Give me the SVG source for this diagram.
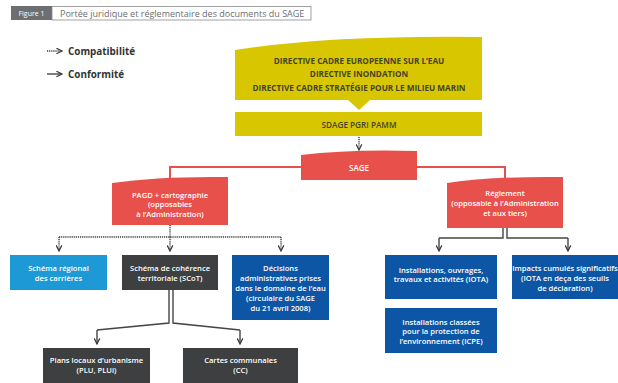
<svg xmlns="http://www.w3.org/2000/svg" width="618" height="383" viewBox="0 0 618 383">
<defs>
<style>
.t{font-family:"Open Sans","Liberation Sans",sans-serif;text-anchor:middle}
.w{fill:#ffffff;font-size:7.6px;font-weight:600}
.y{fill:#45432e;font-size:8.2px;font-weight:700}
.red{fill:#e8504b}
.yel{fill:#d8c700}
.dot{fill:none;stroke:#3e3e3e;stroke-width:1.4;stroke-dasharray:1.2 0.9}
.sol{fill:none;stroke:#454545;stroke-width:1.4}
.rl{fill:none;stroke:#e8504b;stroke-width:2}
</style>
<marker id="ah" viewBox="0 0 10 10" refX="9" refY="5" markerWidth="7" markerHeight="7" markerUnits="userSpaceOnUse" orient="auto">
<path d="M1,1 L9,5 L1,9" fill="none" stroke="#3e3e3e" stroke-width="1.8"/>
</marker>
</defs>
<rect width="618" height="383" fill="#ffffff"/>

<g id="header">
<rect x="11" y="6" width="41" height="14" fill="#6d6e70"/>
<text x="31.5" y="16" class="t" style="fill:#ffffff;font-size:7px">Figure 1</text>
<rect x="52" y="6.5" width="259" height="13.5" fill="#ffffff" stroke="#8a8a8a" stroke-width="0.8"/>
<text x="60" y="16.8" style="font-family:'Open Sans','Liberation Sans',sans-serif;font-size:9px;fill:#6d6e70">Portée juridique et réglementaire des documents du SAGE</text>
</g>

<g id="legend">
<line x1="47" y1="51" x2="62" y2="51" class="dot" marker-end="url(#ah)"/>
<text x="68" y="54.5" style="font-family:'Open Sans','Liberation Sans',sans-serif;font-size:9.9px;font-weight:700;fill:#333333">Compatibilité</text>
<line x1="47" y1="74" x2="62" y2="74" class="sol" marker-end="url(#ah)"/>
<text x="68" y="78" style="font-family:'Open Sans','Liberation Sans',sans-serif;font-size:9.9px;font-weight:700;fill:#333333">Conformité</text>
</g>

<g id="connectors">
<line x1="359" y1="137" x2="359" y2="150" class="dot" marker-end="url(#ah)"/>
<path d="M301,167 H170 V180" class="rl"/>
<path d="M417,167 H505 V180" class="rl"/>
<path d="M170,225 V237" class="dot"/>
<path d="M59,237 H281" class="dot"/>
<line x1="59" y1="237" x2="59" y2="251" class="dot" marker-end="url(#ah)"/>
<line x1="170" y1="237" x2="170" y2="251" class="dot" marker-end="url(#ah)"/>
<line x1="281" y1="237" x2="281" y2="251" class="dot" marker-end="url(#ah)"/>
<path d="M503,228 V238 H439" class="sol"/>
<path d="M507,228 V238 H568" class="sol"/>
<line x1="439" y1="238" x2="439" y2="251" class="sol" marker-end="url(#ah)"/>
<line x1="568" y1="238" x2="568" y2="251" class="sol" marker-end="url(#ah)"/>
<path d="M169,290 V323 L97,330" class="sol"/>
<path d="M173,290 V323 L240,330" class="sol"/>
<line x1="97" y1="330" x2="97" y2="344" class="sol" marker-end="url(#ah)"/>
<line x1="240" y1="330" x2="240" y2="344" class="sol" marker-end="url(#ah)"/>
</g>

<g id="directives">
<path d="M235,50 Q330,35 482,37 L482,100 L370,100 L359,110 L348,100 L235,100 Z" class="yel"/>
<text x="359" y="63.5" class="t y">DIRECTIVE CADRE EUROPEENNE SUR L’EAU</text>
<text x="359" y="76.5" class="t y">DIRECTIVE INONDATION</text>
<text x="359" y="90.5" class="t y">DIRECTIVE CADRE STRATÉGIE POUR LE MILIEU MARIN</text>
</g>

<g id="sdage">
<rect x="235" y="112" width="247" height="24" class="yel"/>
<text x="359" y="127.5" class="t y" style="font-weight:600">SDAGE PGRI PAMM</text>
</g>

<g id="sage">
<path d="M301,155 Q350,149 417,151 L417,180 L301,180 Z" class="red"/>
<text x="359" y="170.5" class="t w" style="font-size:8px">SAGE</text>
</g>

<g id="pagd">
<path d="M112,183 Q160,176 228,177 L228,225 L112,225 Z" class="red"/>
<text x="170" y="197.5" class="t w">PAGD + cartographie</text>
<text x="170" y="207" class="t w">(opposables</text>
<text x="170" y="216.5" class="t w">à l’Administration)</text>
</g>

<g id="reglement">
<path d="M447,183 Q495,176 563,177 L563,228 L447,228 Z" class="red"/>
<text x="505" y="195.5" class="t w">Réglement</text>
<text x="505" y="205.5" class="t w">(opposable à l’Administration</text>
<text x="505" y="215.5" class="t w">et aux tiers)</text>
</g>

<g id="schema-regional">
<rect x="10" y="255" width="97" height="35" fill="#1d9ad5"/>
<text x="58.5" y="270.5" class="t w">Schéma régional</text>
<text x="58.5" y="280.5" class="t w">des carrières</text>
</g>

<g id="scot">
<rect x="122" y="255" width="96" height="35" fill="#3d3f41"/>
<text x="170" y="270.5" class="t w">Schéma de cohérence</text>
<text x="170" y="280.5" class="t w">territoriale (SCoT)</text>
</g>

<g id="decisions">
<rect x="232" y="255" width="97" height="65" fill="#0d56a5"/>
<text x="280.5" y="270.5" class="t w">Décisions</text>
<text x="280.5" y="280.5" class="t w">administratives prises</text>
<text x="280.5" y="290.5" class="t w">dans le domaine de l’eau</text>
<text x="280.5" y="300.5" class="t w">(circulaire du SAGE</text>
<text x="280.5" y="310.5" class="t w">du 21 avril 2008)</text>
</g>

<g id="iota">
<rect x="385" y="255" width="112" height="44" fill="#0d56a5"/>
<text x="441" y="272.5" class="t w">Installations, ouvrages,</text>
<text x="441" y="282" class="t w">travaux et activités (IOTA)</text>
</g>

<g id="impacts">
<rect x="512" y="255" width="106" height="44" fill="#0d56a5"/>
<text x="565" y="270.5" class="t w">Impacts cumulés significatifs</text>
<text x="565" y="280.5" class="t w">(IOTA en deça des seuils</text>
<text x="565" y="291" class="t w">de déclaration)</text>
</g>

<g id="icpe">
<rect x="385" y="308" width="112" height="45" fill="#0d56a5"/>
<text x="441" y="324.5" class="t w">Installations classées</text>
<text x="441" y="334" class="t w">pour la protection de</text>
<text x="441" y="343.5" class="t w">l’environnement (ICPE)</text>
</g>

<g id="plu">
<rect x="43" y="348" width="107" height="36" fill="#3d3f41"/>
<text x="96.5" y="362.5" class="t w">Plans locaux d’urbanisme</text>
<text x="96.5" y="372.5" class="t w">(PLU, PLUi)</text>
</g>

<g id="cc">
<rect x="183" y="348" width="115" height="36" fill="#3d3f41"/>
<text x="240.5" y="362.5" class="t w">Cartes communales</text>
<text x="240.5" y="372.5" class="t w">(CC)</text>
</g>
</svg>
